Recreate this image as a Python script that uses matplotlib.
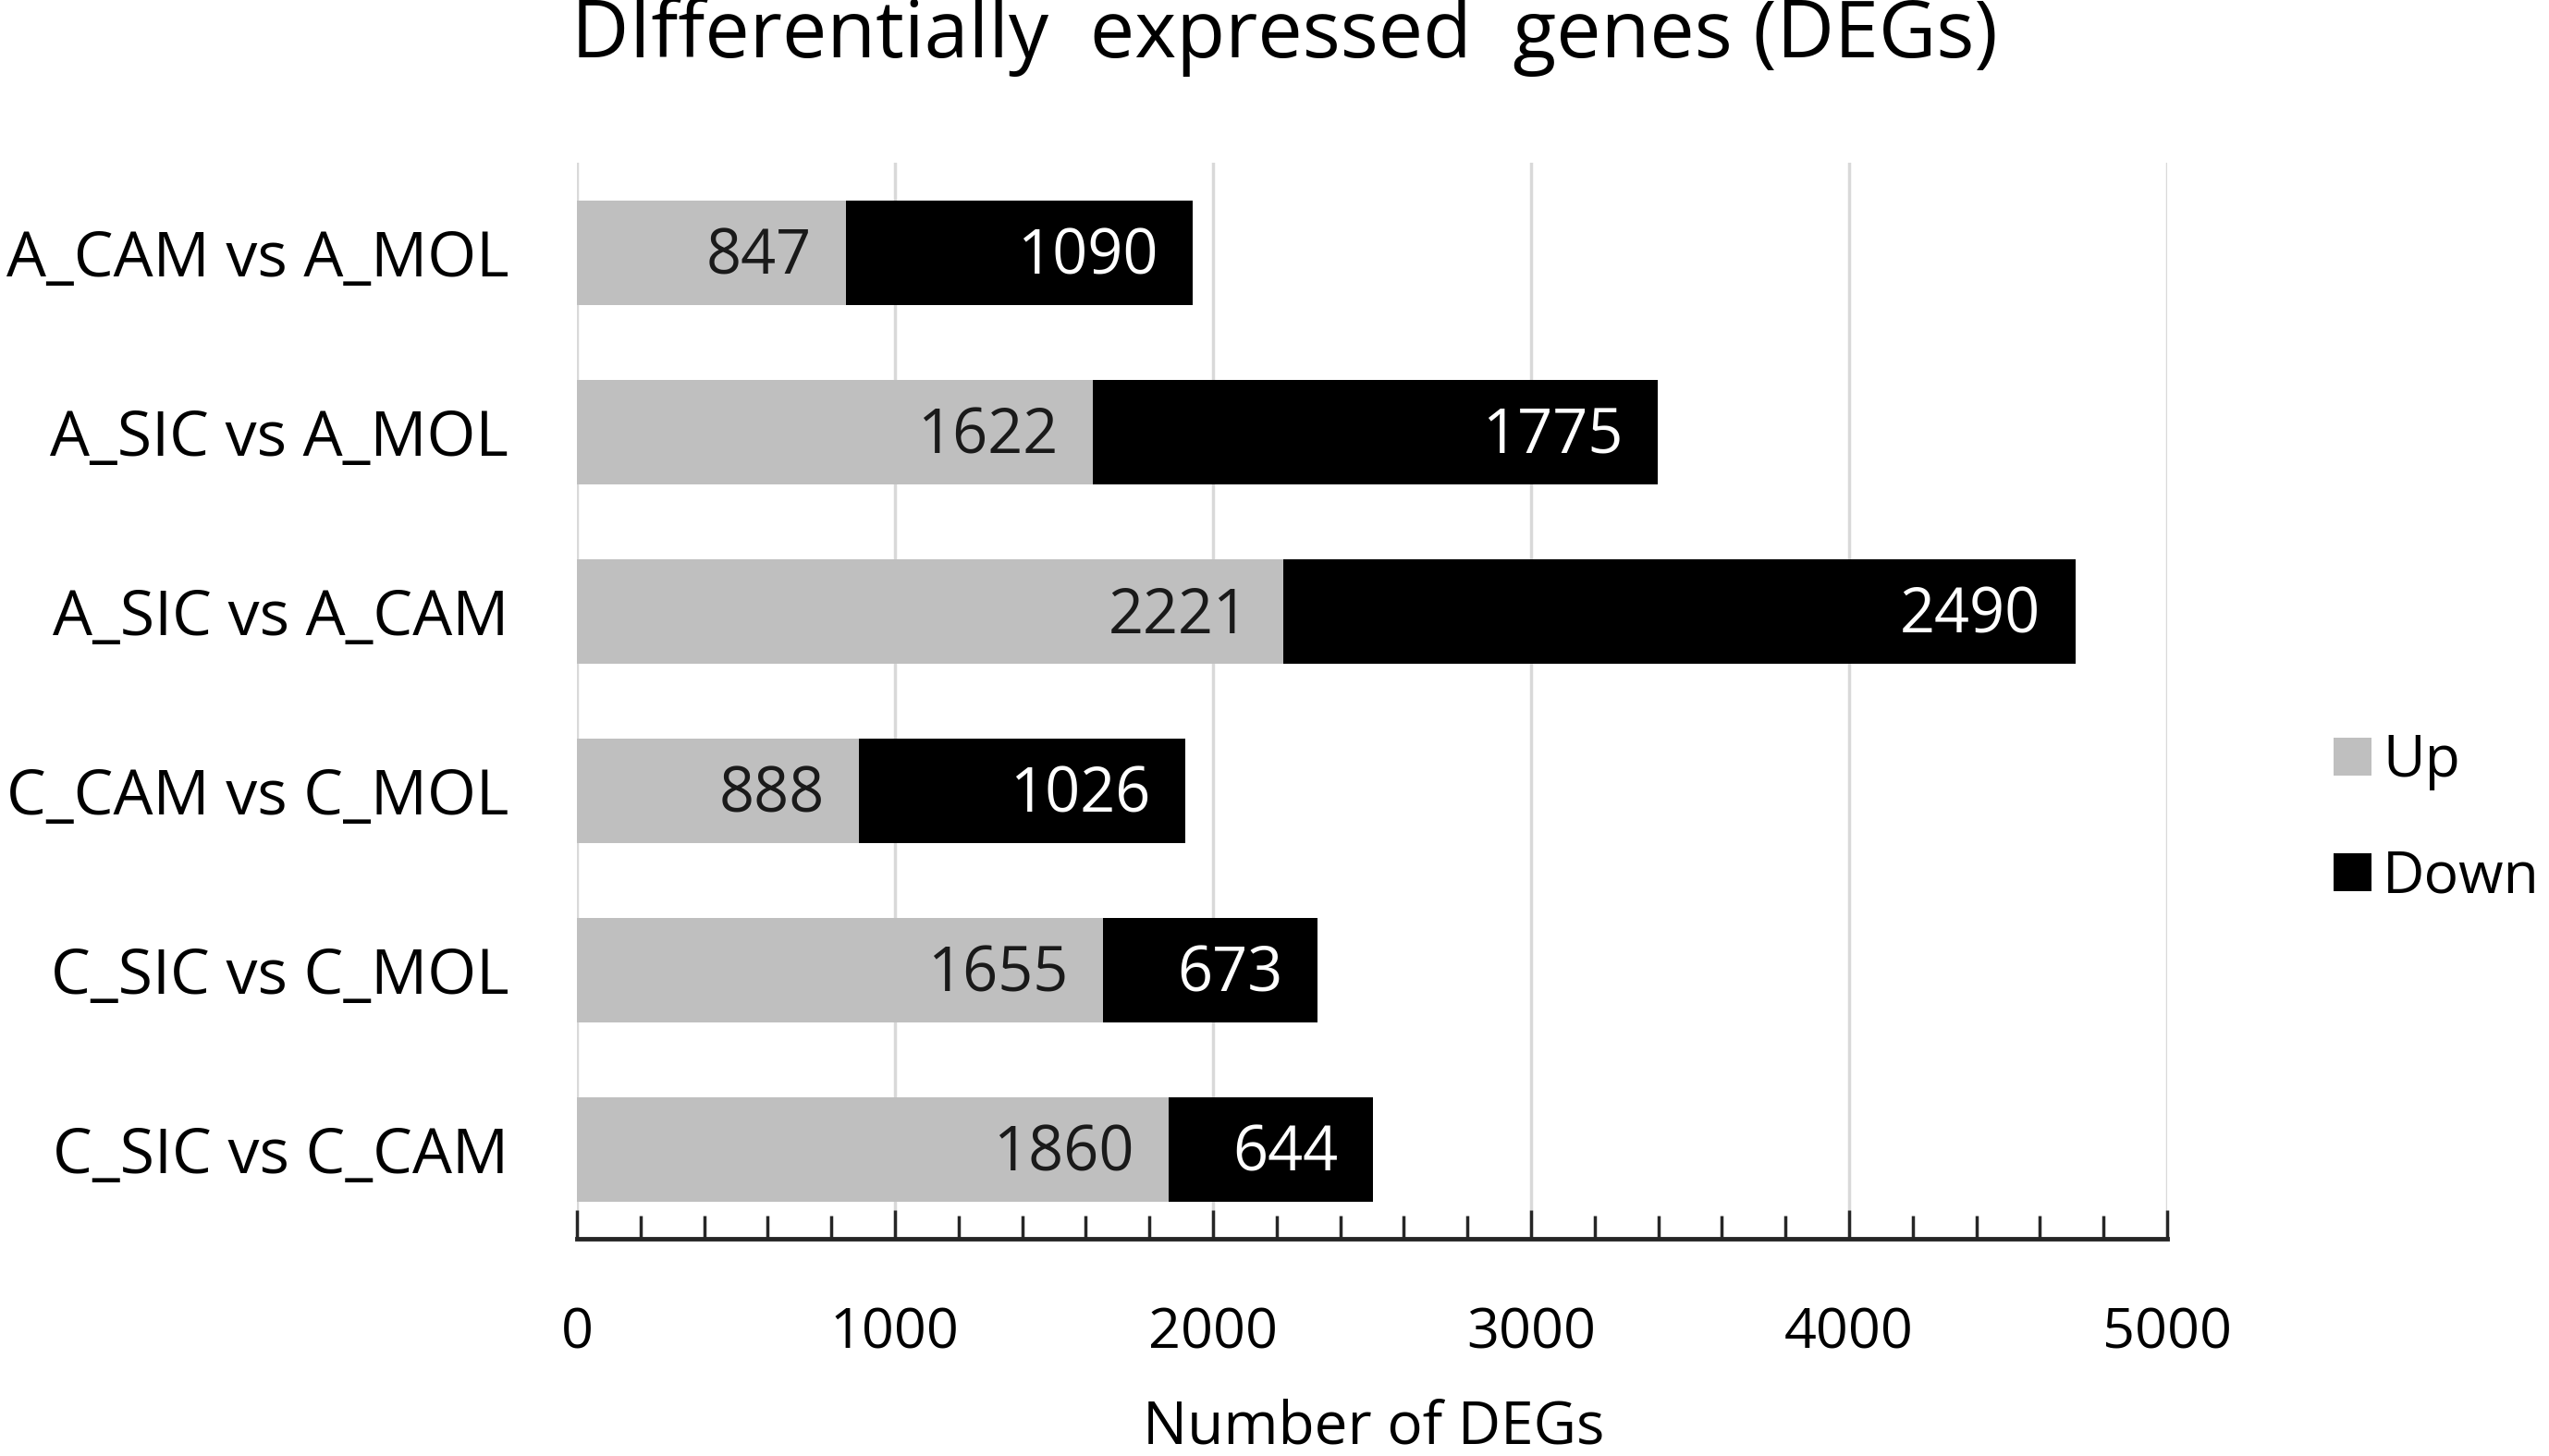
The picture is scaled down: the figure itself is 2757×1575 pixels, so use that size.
import matplotlib.pyplot as plt
from matplotlib.ticker import MultipleLocator

plt.rcParams['font.family'] = ['Open Sans', 'DejaVu Sans']

# datos
comparaciones = ["A_CAM vs A_MOL", "A_SIC vs A_MOL", "A_SIC vs A_CAM",
                 "C_CAM vs C_MOL", "C_SIC vs C_MOL", "C_SIC vs C_CAM"]
up = [847, 1622, 2221, 888, 1655, 1860]
down = [1090, 1775, 2490, 1026, 673, 644]

gris = "#bfbfbf"
negro = "#000000"

fig = plt.figure(figsize=(27.57, 15.75), dpi=100)
ax = fig.add_axes([0.2263, 0.149, 0.8502 - 0.2263, 0.888 - 0.149])

pos = list(range(len(comparaciones)))
b_up = ax.barh(pos, up, height=0.58, color=gris, label="Up", zorder=2)
b_down = ax.barh(pos, down, left=up, height=0.58, color=negro, label="Down", zorder=2)

# etiquetas dentro de las barras
for i in pos:
    ax.annotate(str(up[i]), xy=(up[i], i), xytext=(-27, -4), textcoords="offset points",
                ha="right", va="center", fontsize=48, color="#1a1a1a")
    ax.annotate(str(down[i]), xy=(up[i] + down[i], i), xytext=(-27, -4),
                textcoords="offset points", ha="right", va="center",
                fontsize=48, color="white")

ax.set_xlim(0, 5000)
ax.set_ylim(5.5, -0.5)
ax.set_yticks(pos)
ax.set_yticklabels(comparaciones, fontsize=49)
ax.xaxis.set_major_locator(MultipleLocator(1000))
ax.xaxis.set_minor_locator(MultipleLocator(200))
ax.tick_params(axis="y", length=0, pad=53)
ax.tick_params(axis="x", which="major", direction="in", length=22, width=2.5,
               color="#262626", labelsize=44, pad=52)
ax.tick_params(axis="x", which="minor", direction="in", length=18, width=2.5,
               color="#262626")
ax.grid(axis="x", color="#d9d9d9", linewidth=2.5, zorder=0)
ax.set_axisbelow(True)

for lado in ["top", "right", "left"]:
    ax.spines[lado].set_visible(False)
ax.spines["bottom"].set_color("#262626")
ax.spines["bottom"].set_linewidth(3.5)

fig.text(0.504, 0.975, "DIfferentially  expressed  genes (DEGs)", ha="center",
         va="center", fontsize=62)
fig.text(0.539, 0.040, "Number of DEGs", ha="center", va="top", fontsize=46)

fig.legend(handles=[b_up, b_down], loc="center left", bbox_to_anchor=(0.9155, 0.437),
           frameon=False, fontsize=45, handlelength=0.65, handleheight=0.65,
           handletextpad=0.2, labelspacing=1.0, borderaxespad=0, borderpad=0)

fig.savefig("out.png", dpi=100)
